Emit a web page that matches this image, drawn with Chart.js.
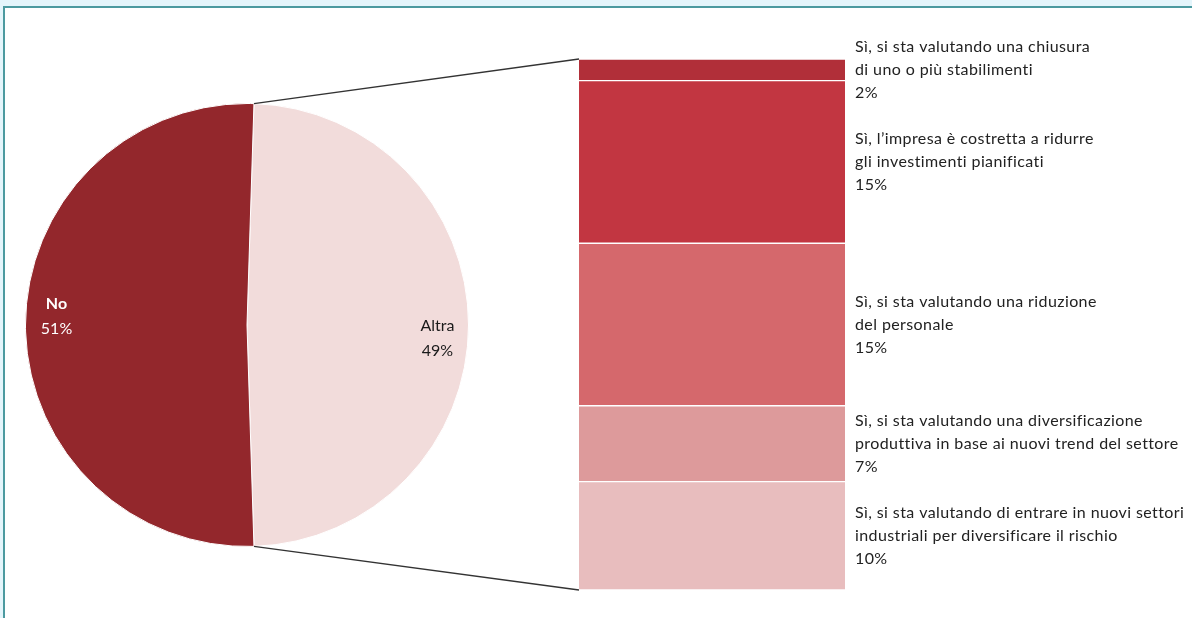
<!DOCTYPE html>
<html>
<head>
<meta charset="utf-8">
<script src="https://cdn.jsdelivr.net/npm/chart.js"></script>
<style>
  body { margin: 0; background: #e4f5fb; width: 1192px; height: 618px; overflow: hidden; position: relative; font-family: Lato, sans-serif; }
  #frame { position: absolute; left: 3px; top: 6px; width: 1200px; height: 630px; background: #fff; border-top: 2px solid #4c9aa0; border-left: 2px solid #4c9aa0; }
  canvas { position: absolute; }
  #pie { left: 20px; top: 98px; }
  #bar { left: 579px; top: 20px; }
  #linee { left: 0; top: 0; pointer-events: none; }
</style>
</head>
<body>
<div id="frame"></div>
<canvas id="pie" width="454" height="454"></canvas>
<canvas id="bar" width="613" height="590"></canvas>
<canvas id="linee" width="1192" height="618"></canvas>
<script>
// Dati della torta
const torta = ["Altra", "No"];
const tortaValori = [49, 51];
const tortaColori = ["#f2dcdb", "#93272c"];

// Dettaglio di "Altra" (dall'alto verso il basso)
const voci = [
  ["Sì, si sta valutando una chiusura", "di uno o più stabilimenti"],
  ["Sì, l’impresa è costretta a ridurre", "gli investimenti pianificati"],
  ["Sì, si sta valutando una riduzione", "del personale"],
  ["Sì, si sta valutando una diversificazione", "produttiva in base ai nuovi trend del settore"],
  ["Sì, si sta valutando di entrare in nuovi settori", "industriali per diversificare il rischio"]
];
const vociValori = [2, 15, 15, 7, 10];
const vociColori = ["#b12f39", "#c23641", "#d5686c", "#dd9a9b", "#e8bdbe"];

// Etichette dentro la torta
const etichetteTorta = {
  id: "etichetteTorta",
  afterDraw(chart) {
    const ctx = chart.ctx;
    const meta = chart.getDatasetMeta(0);
    const stili = [
      { col: "#1a1a1a", peso: "normal", dy: 13 },
      { col: "#ffffff", peso: "bold", dy: -9 }
    ];
    meta.data.forEach((arc, i) => {
      const p = arc.getProps(["x", "y", "startAngle", "endAngle", "outerRadius"]);
      const a = (p.startAngle + p.endAngle) / 2;
      const x = p.x + Math.cos(a) * p.outerRadius * 0.86;
      const y = p.y + Math.sin(a) * p.outerRadius * 0.86 + stili[i].dy;
      ctx.save();
      ctx.fillStyle = stili[i].col;
      ctx.textAlign = "center";
      ctx.textBaseline = "middle";
      ctx.font = stili[i].peso + " 16px Lato";
      ctx.fillText(torta[i], x, y - 12);
      ctx.font = "normal 16px Lato";
      ctx.fillText(tortaValori[i] + "%", x, y + 13);
      ctx.restore();
    });
  }
};

const graficoTorta = new Chart(document.getElementById("pie"), {
  type: "pie",
  data: {
    labels: torta,
    datasets: [{
      data: tortaValori,
      backgroundColor: tortaColori,
      borderColor: "#ffffff",
      borderWidth: 1
    }]
  },
  options: {
    responsive: false,
    animation: false,
    rotation: 1.8,
    layout: { padding: 5 },
    plugins: { legend: { display: false }, tooltip: { enabled: false } }
  },
  plugins: [etichetteTorta]
});

// Etichette a destra della barra
const etichetteBarra = {
  id: "etichetteBarra",
  afterDraw(chart) {
    const ctx = chart.ctx;
    ctx.save();
    ctx.fillStyle = "#222222";
    ctx.font = "16px Lato";
    ctx.letterSpacing = "0.4px";
    ctx.textBaseline = "middle";
    chart.data.datasets.forEach((ds, i) => {
      const el = chart.getDatasetMeta(i).data[0];
      const p = el.getProps(["x", "y", "base", "width"]);
      const mid = (p.y + p.base) / 2;
      const x = chart.chartArea.right + 10;
      ctx.fillText(voci[i][0], x, mid - 23);
      ctx.fillText(voci[i][1], x, mid);
      ctx.fillText(vociValori[i] + "%", x, mid + 23);
    });
    ctx.restore();
  }
};

const graficoBarra = new Chart(document.getElementById("bar"), {
  type: "bar",
  data: {
    labels: [""],
    datasets: vociValori.map((v, i) => ({
      data: [v],
      backgroundColor: vociColori[i],
      borderColor: "#ffffff",
      borderWidth: { top: 1, bottom: 1, left: 0, right: 0 },
      borderSkipped: false,
      categoryPercentage: 1,
      barPercentage: 1
    }))
  },
  options: {
    responsive: false,
    animation: false,
    layout: { padding: { top: 39, bottom: 20, left: 0, right: 347 } },
    scales: {
      x: { stacked: true, display: false },
      y: { stacked: true, display: false, reverse: true, min: 0, max: 49 }
    },
    plugins: { legend: { display: false }, tooltip: { enabled: false } }
  },
  plugins: [etichetteBarra]
});

// Linee di collegamento tra torta e barra
function disegnaLinee() {
  const ctx = document.getElementById("linee").getContext("2d");
  const pieBox = document.getElementById("pie").getBoundingClientRect();
  const barBox = document.getElementById("bar").getBoundingClientRect();
  const arc = graficoTorta.getDatasetMeta(0).data[0].getProps(["x", "y", "startAngle", "endAngle", "outerRadius"]);
  const primo = graficoBarra.getDatasetMeta(0).data[0].getProps(["x", "y", "base", "width"]);
  const ultimo = graficoBarra.getDatasetMeta(vociValori.length - 1).data[0].getProps(["x", "y", "base", "width"]);
  const a1 = { x: pieBox.left + arc.x + Math.cos(arc.startAngle) * arc.outerRadius, y: pieBox.top + arc.y + Math.sin(arc.startAngle) * arc.outerRadius };
  const a2 = { x: pieBox.left + arc.x + Math.cos(arc.endAngle) * arc.outerRadius, y: pieBox.top + arc.y + Math.sin(arc.endAngle) * arc.outerRadius };
  const b1 = { x: barBox.left + primo.x - primo.width / 2, y: barBox.top + Math.min(primo.y, primo.base) };
  const b2 = { x: barBox.left + ultimo.x - ultimo.width / 2, y: barBox.top + Math.max(ultimo.y, ultimo.base) };
  ctx.strokeStyle = "#333333";
  ctx.lineWidth = 1.3;
  ctx.beginPath();
  ctx.moveTo(a1.x, a1.y); ctx.lineTo(b1.x, b1.y);
  ctx.moveTo(a2.x, a2.y); ctx.lineTo(b2.x, b2.y);
  ctx.stroke();
}
disegnaLinee();
</script>
</body>
</html>
